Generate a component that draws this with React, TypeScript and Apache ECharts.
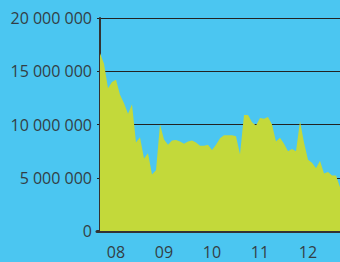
import React, { useEffect, useRef } from "react";
import * as echarts from "echarts";

// Monthly values, Sep 2007 – Sep 2012
const months: string[] = [];
for (let y = 2007; y <= 2012; y++) {
  for (let m = 1; m <= 12; m++) {
    if ((y === 2007 && m < 9) || (y === 2012 && m > 9)) continue;
    months.push(`${y}-${String(m).padStart(2, "0")}`);
  }
}

const values: number[] = [
  16.7, 15.7, 13.4, 14.0, 14.2, 12.8, 12.0, 11.0, 11.9, 8.3,
  8.8, 6.8, 7.3, 5.3, 5.7, 10.0, 8.6, 8.1, 8.5, 8.55,
  8.4, 8.2, 8.4, 8.5, 8.3, 8.0, 8.0, 8.1, 7.6, 8.1,
  8.7, 9.0, 9.0, 9.0, 8.9, 7.2, 10.9, 10.9, 10.2, 9.9,
  10.6, 10.55, 10.7, 10.0, 8.4, 8.75, 8.2, 7.5, 7.7, 7.5,
  10.3, 8.3, 6.7, 6.4, 5.9, 6.6, 5.4, 5.55, 5.2, 5.2,
  4.1,
].map((v) => v * 1000000);

const yTicks: number[] = [0, 5000000, 10000000, 15000000, 20000000];

const fmtY = (v: number) =>
  String(Math.round(v)).replace(/\B(?=(\d{3})+(?!\d))/g, " ");

export default function App() {
  const ref = useRef<HTMLDivElement>(null);
  useEffect(() => {
    if (!ref.current) return;
    const chart = echarts.init(ref.current, undefined, { renderer: "svg" });
    const labelIdx = months
      .map((m, i) => (m.endsWith("-01") ? i : -1))
      .filter((i) => i >= 0);
    chart.setOption({
      animation: false,
      backgroundColor: "#4bc6f1",
      textStyle: { fontFamily: "Open Sans" },
      grid: { left: 97, right: 0, top: 18, bottom: 31, containLabel: false },
      xAxis: {
        type: "value",
        min: -0.75,
        max: months.length - 1,
        splitLine: { show: false },
        axisTick: { show: false },
        axisLine: { show: true, lineStyle: { color: "#333333", width: 3 } },
        axisLabel: {
          customValues: labelIdx,
          formatter: (v: number) => months[Math.round(v)].slice(2, 4),
          color: "#333e45",
          fontSize: 16,
          lineHeight: 16,
          fontFamily: "Open Sans",
          margin: 13,
        },
      },
      yAxis: {
        type: "value",
        min: yTicks[0],
        max: yTicks[yTicks.length - 1],
        interval: 5000000,
        axisLine: { show: true, lineStyle: { color: "#333333", width: 2 } },
        axisTick: { show: false },
        splitLine: { show: true, lineStyle: { color: "#222222", width: 1 } },
        axisLabel: {
          formatter: fmtY,
          color: "#333e45",
          fontSize: 16,
          fontFamily: "Open Sans",
          margin: 5,
        },
      },
      series: [
        {
          type: "line",
          data: values.map((v, i) => [i, v]),
          showSymbol: false,
          symbol: "none",
          lineStyle: { width: 0 },
          areaStyle: { color: "#c3d93a", opacity: 1 },
        },
      ],
    });
    return () => chart.dispose();
  }, []);
  return (
    <div
      ref={ref}
      style={{ position: "fixed", left: 0, top: 0, width: 340, height: 262 }}
    />
  );
}
